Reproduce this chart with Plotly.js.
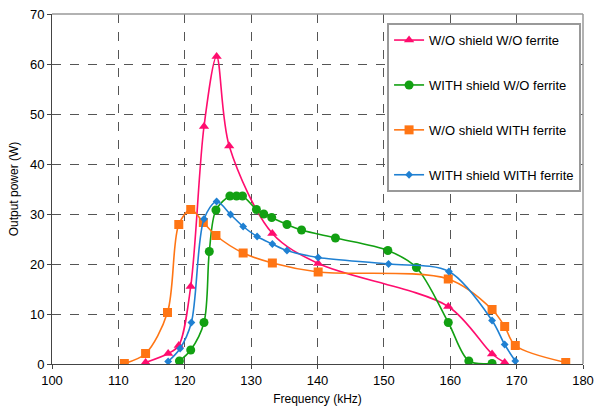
<!DOCTYPE html>
<html>
<head>
<meta charset="utf-8">
<script src="https://cdn.plot.ly/plotly-3.0.1.min.js"></script>
<style>html,body{margin:0;padding:0;background:#fff;}#chart{width:595px;height:411px;}</style>
</head>
<body>
<div id="chart"></div>
<script>
// Series 1: W/O shield W/O ferrite
const freqA = [114.1, 117.5, 119.1, 120.9, 122.9, 124.8, 126.7, 133.2, 140.1, 159.7, 166.3, 168.2];
const powA  = [0.3, 2.1, 3.7, 15.5, 47.5, 61.5, 43.6, 26.1, 20.1, 11.5, 2.0, 0.3];
// Series 2: WITH shield W/O ferrite
const freqB = [119.2, 120.9, 122.9, 123.7, 124.7, 126.8, 127.8, 128.7, 130.8, 131.9, 133.1, 135.4, 137.6, 142.7, 150.6, 154.9, 159.7, 162.8, 166.3];
const powB  = [0.6, 2.8, 8.3, 22.5, 30.8, 33.6, 33.6, 33.6, 30.9, 30.0, 29.3, 27.9, 26.8, 25.2, 22.7, 19.3, 8.3, 0.6, 0.1];
// Series 3: W/O shield WITH ferrite
const freqC = [110.9, 114.1, 117.4, 119.1, 120.9, 122.8, 124.7, 128.8, 133.2, 140.1, 159.7, 166.3, 168.2, 169.8, 177.4];
const powC  = [0.1, 2.1, 10.3, 27.9, 30.9, 28.3, 25.7, 22.2, 20.2, 18.4, 17.0, 10.9, 7.5, 3.7, 0.3];
// Series 4: WITH shield WITH ferrite
const freqD = [117.5, 119.3, 121.0, 122.9, 124.8, 126.9, 128.8, 130.9, 133.2, 135.4, 140.1, 150.7, 159.8, 166.3, 168.2, 169.8];
const powD  = [0.5, 3.1, 8.3, 29.0, 32.5, 29.9, 27.5, 25.5, 24.0, 22.7, 21.3, 20.0, 18.5, 8.7, 3.9, 0.6];

const names = ['W/O shield W/O ferrite', 'WITH shield W/O ferrite', 'W/O shield WITH ferrite', 'WITH shield WITH ferrite'];
const colors = ['#ff0d6e', '#12a012', '#ff7514', '#1f80d2'];
const symbols = ['triangle-up', 'circle', 'square', 'diamond'];
const msizes = [9, 9, 9, 6];
const xs = [freqA, freqB, freqC, freqD];
const ys = [powA, powB, powC, powD];

const traces = xs.map((x, i) => ({
  x: x, y: ys[i], name: names[i], type: 'scatter', mode: 'lines+markers',
  legendgroup: 'g' + i,
  line: {color: colors[i], width: 1.6, shape: 'spline', smoothing: 0.9},
  marker: {color: colors[i], symbol: symbols[i], size: msizes[i]}
}));

const FF = 'Liberation Sans, Arial, sans-serif';
const layout = {
  width: 595, height: 411,
  margin: {l: 52, r: 12, t: 14, b: 47},
  paper_bgcolor: '#fff', plot_bgcolor: '#fff',
  font: {family: FF, size: 12, color: '#000'},
  showlegend: true,
  legend: {
    x: 0.631, y: 0.974, xanchor: 'left', yanchor: 'top',
    bgcolor: '#fff', bordercolor: '#999', borderwidth: 2,
    font: {family: FF, size: 13, color: '#000'},
    tracegroupgap: 25, itemwidth: 30, traceorder: 'grouped'
  },
  xaxis: {
    range: [100, 180], dtick: 10, tick0: 100,
    showgrid: true, gridcolor: '#555', griddash: 'dash', gridwidth: 1,
    zeroline: false, showline: true, linecolor: '#444', linewidth: 1,
    ticks: 'outside', ticklen: 4, tickcolor: '#444',
    tickfont: {family: FF, size: 13},
    title: {text: 'Frequency (kHz)', standoff: 8, font: {family: FF, size: 12}}
  },
  yaxis: {
    range: [0, 70], dtick: 10,
    showgrid: true, gridcolor: '#555', griddash: 'dash', gridwidth: 1,
    zeroline: false, showline: true, linecolor: '#444', linewidth: 1,
    ticks: 'outside', ticklen: 4, tickcolor: '#444',
    tickfont: {family: FF, size: 13},
    title: {text: 'Output power (W)', standoff: 8, font: {family: FF, size: 12}}
  },
  shapes: [
    {type: 'line', xref: 'paper', yref: 'paper', x0: 0, x1: 1, y0: 1, y1: 1, line: {color: '#999', width: 1.5}},
    {type: 'line', xref: 'paper', yref: 'paper', x0: 1, x1: 1, y0: 0, y1: 1, line: {color: '#999', width: 1.5}}
  ]
};

Plotly.newPlot('chart', traces, layout, {displayModeBar: false, staticPlot: true});
</script>
</body>
</html>
